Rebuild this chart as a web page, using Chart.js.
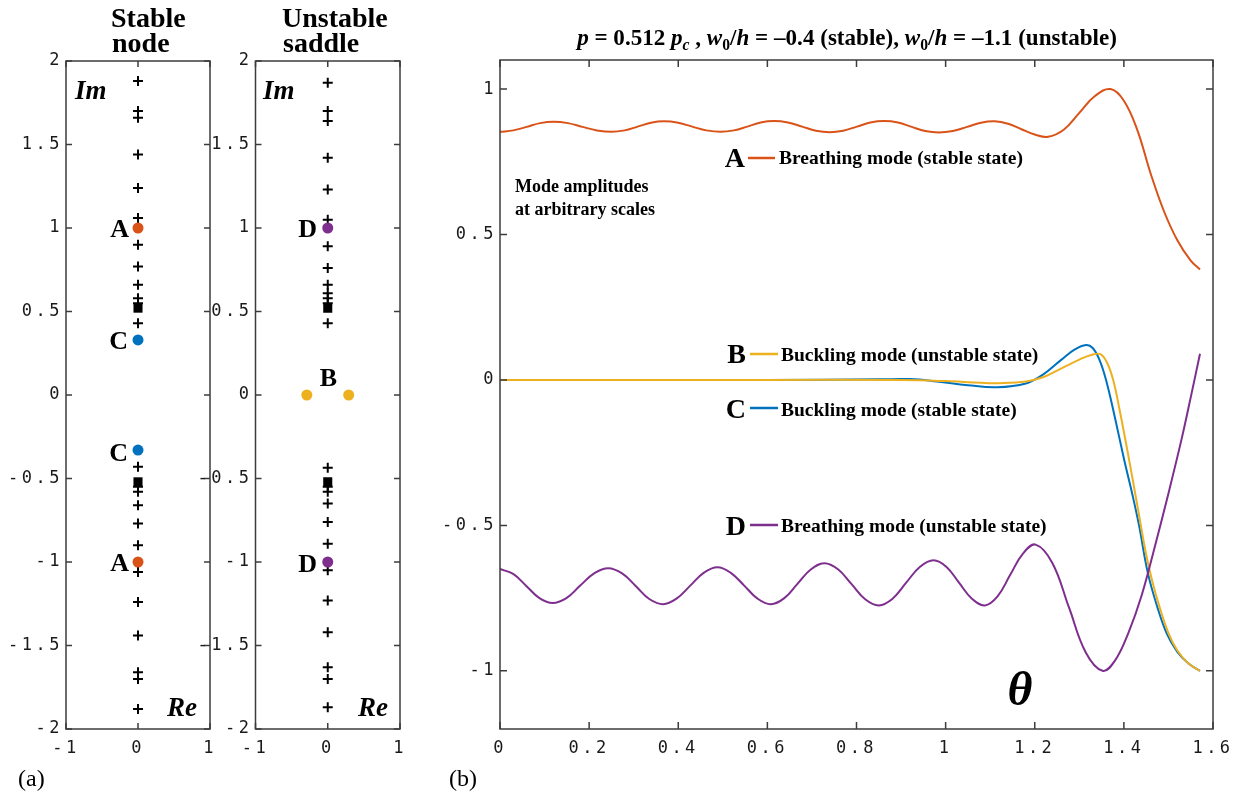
<!DOCTYPE html>
<html>
<head>
<meta charset="utf-8">
<script src="https://cdn.jsdelivr.net/npm/chart.js@4.4.0/dist/chart.umd.min.js"></script>
<style>
  html, body { margin: 0; padding: 0; background: #fff; }
  #wrap { position: relative; width: 1243px; height: 800px; overflow: hidden; }
  canvas { position: absolute; top: 0; }
  #pa { left: 0px; }
  #ps { left: 160px; }
  #pb { left: 420px; }
</style>
</head>
<body>
<div id="wrap">
  <canvas id="pb" width="823" height="800"></canvas>
  <canvas id="pa" width="218" height="800"></canvas>
  <canvas id="ps" width="250" height="800"></canvas>
</div>
<script>
// ---- tick values
const reTicks = [-1, 0, 1];
const imTicks = [-2, -1.5, -1, -0.5, 0, 0.5, 1, 1.5, 2];
const thetaTicks = [0, 0.2, 0.4, 0.6, 0.8, 1, 1.2, 1.4, 1.6];
const ampTicks = [-1, -0.5, 0, 0.5, 1];

// ---- (a) eigenvalues, stable node (all on the imaginary axis unless noted)
const imStable = [1.88, 1.70, 1.66, 1.44, 1.24, 1.06, 0.90, 0.77, 0.66, 0.58, 0.55, 0.43,
                  -0.43, -0.55, -0.58, -0.66, -0.77, -0.90, -1.06, -1.24, -1.44, -1.66, -1.70, -1.88];
const imStableSq = [0.52, -0.52];
const imA = [1, -1];
const imC = [0.33, -0.33];

// ---- (a) eigenvalues, unstable saddle
const imSaddle = [1.87, 1.70, 1.64, 1.42, 1.23, 1.05, 0.89, 0.76, 0.66, 0.61, 0.58, 0.55, 0.43,
                  -0.435, -0.55, -0.58, -0.65, -0.76, -0.89, -1.05, -1.23, -1.42, -1.63, -1.70, -1.87];
const imSaddleSq = [0.52, -0.52];
const imD = [1, -1];
const reB = [-0.29, 0.29];
const imB = [0, 0];

// ---- (b) mode shapes vs theta
const thetaA = [0, 0.03, 0.06, 0.09, 0.12, 0.1525, 0.185, 0.2175, 0.25, 0.2795, 0.309, 0.3385, 0.368,
                0.40, 0.4315, 0.463, 0.495, 0.525, 0.555, 0.585, 0.615, 0.646, 0.678, 0.709, 0.74,
                0.77, 0.801, 0.831, 0.862, 0.893, 0.924, 0.954, 0.985, 1.016, 1.048, 1.079, 1.11,
                1.14, 1.17, 1.20, 1.23, 1.265, 1.30, 1.335, 1.37, 1.40, 1.43, 1.46, 1.49, 1.52, 1.55, 1.5708];
const modeA = [0.853, 0.858, 0.870, 0.883, 0.888, 0.883, 0.870, 0.858, 0.853, 0.858, 0.871, 0.884, 0.889,
               0.884, 0.871, 0.858, 0.853, 0.858, 0.871, 0.885, 0.890, 0.885, 0.871, 0.857, 0.852,
               0.857, 0.871, 0.885, 0.890, 0.885, 0.870, 0.856, 0.851, 0.856, 0.870, 0.884, 0.889,
               0.881, 0.862, 0.844, 0.836, 0.860, 0.918, 0.976, 1.0, 0.96, 0.86, 0.71, 0.58, 0.48, 0.41, 0.38];

const thetaB = [0, 0.3, 0.6, 0.9, 1.0, 1.08, 1.12, 1.18, 1.22, 1.26, 1.30, 1.325, 1.347, 1.362, 1.376,
                1.39, 1.41, 1.43, 1.45, 1.465, 1.48, 1.50, 1.52, 1.545, 1.5708];
const modeB = [0, 0, 0, 0, -0.004, -0.010, -0.011, -0.005, 0.010, 0.040, 0.070, 0.085, 0.089, 0.060, 0.0,
               -0.10, -0.26, -0.43, -0.60, -0.70, -0.78, -0.87, -0.93, -0.975, -1.0];

const thetaC = [0, 0.3, 0.6, 0.85, 0.92, 0.98, 1.05, 1.115, 1.18, 1.22, 1.26, 1.29, 1.315, 1.33, 1.345,
                1.36, 1.38, 1.40, 1.42, 1.434, 1.454, 1.475, 1.496, 1.52, 1.545, 1.5708];
const modeC = [0, 0, 0, 0.002, 0.003, -0.005, -0.018, -0.025, -0.012, 0.020, 0.070, 0.105, 0.120, 0.110, 0.070,
               0.0, -0.13, -0.27, -0.40, -0.50, -0.665, -0.78, -0.871, -0.935, -0.975, -1.0];

const thetaD = [0, 0.0295, 0.059, 0.0885, 0.118, 0.149, 0.180, 0.212, 0.243, 0.274, 0.305, 0.335, 0.366,
                0.396, 0.427, 0.457, 0.488, 0.518, 0.548, 0.578, 0.608, 0.638, 0.668, 0.698, 0.728,
                0.7585, 0.789, 0.8195, 0.850, 0.881, 0.9115, 0.942, 0.973, 1.002, 1.030, 1.059, 1.088,
                1.1165, 1.145, 1.1735, 1.202, 1.2395, 1.277, 1.3145, 1.352, 1.38, 1.41, 1.44, 1.47,
                1.50, 1.53, 1.55, 1.5708];
const modeD = [-0.650, -0.667, -0.708, -0.750, -0.767, -0.750, -0.707, -0.664, -0.647, -0.665, -0.709, -0.753, -0.771,
               -0.752, -0.707, -0.663, -0.644, -0.663, -0.707, -0.752, -0.771, -0.750, -0.700, -0.651, -0.630,
               -0.651, -0.702, -0.754, -0.775, -0.752, -0.697, -0.643, -0.620, -0.643, -0.697, -0.752, -0.775,
               -0.744, -0.670, -0.597, -0.566, -0.629, -0.783, -0.937, -1.0, -0.965, -0.87, -0.74, -0.57,
               -0.39, -0.20, -0.06, 0.09];

const cA = '#D95319', cB = '#EDB120', cC = '#0072BD', cD = '#7E2F8E';
const serif = '"Liberation Serif", "Times New Roman", serif';
const mono = '"DejaVu Sans Mono", monospace';
const axisColor = '#3c3c3c';

function drawRich(ctx, segs, x, y, size, align, fitWidth) {
    const fontOf = (s, sz) => `${s.i ? 'italic ' : ''}${s.b === false ? '' : 'bold '}${sz}px ${serif}`;
    const widthAt = sz => segs.reduce((w, s) => {
        ctx.font = fontOf(s, s.sub ? sz * 0.68 : sz);
        return w + ctx.measureText(s.t).width;
    }, 0);
    if (fitWidth) size = size * fitWidth / widthAt(size);
    const total = widthAt(size);
    let cx = align === 'center' ? x - total / 2 : (align === 'right' ? x - total : x);
    ctx.textAlign = 'left';
    ctx.textBaseline = 'alphabetic';
    segs.forEach(s => {
        const sz = s.sub ? size * 0.68 : size;
        ctx.font = fontOf(s, sz);
        ctx.fillText(s.t, cx, y + (s.sub ? size * 0.22 : 0));
        cx += ctx.measureText(s.t).width;
    });
}

// MATLAB-like box with inward ticks on all four sides
const frameTicks = {
    id: 'frameTicks',
    afterDatasetsDraw(chart, args, opts) {
        const {ctx, chartArea: a, scales: {x, y}} = chart;
        ctx.save();
        ctx.strokeStyle = axisColor;
        ctx.lineWidth = 1.5;
        ctx.beginPath();
        x.ticks.forEach(t => {
            const px = x.getPixelForValue(t.value);
            ctx.moveTo(px, a.bottom); ctx.lineTo(px, a.bottom - opts.len);
            ctx.moveTo(px, a.top); ctx.lineTo(px, a.top + opts.len);
        });
        y.ticks.forEach(t => {
            const py = y.getPixelForValue(t.value);
            ctx.moveTo(a.left, py); ctx.lineTo(a.left + opts.len, py);
            ctx.moveTo(a.right, py); ctx.lineTo(a.right - opts.len, py);
        });
        ctx.stroke();
        ctx.strokeRect(a.left, a.top, a.right - a.left, a.bottom - a.top);
        ctx.restore();
    }
};

// wide-tracked monospace tick labels
const monoSpacing = {
    id: 'monoSpacing',
    beforeDraw(chart) { chart.ctx.letterSpacing = '3.5px'; }
};

// free text and key lines, positions given in page pixels
const textLayer = {
    id: 'textLayer',
    afterDraw(chart, args, opts) {
        const ctx = chart.ctx;
        const ox = opts.ox || 0;
        ctx.save();
        ctx.letterSpacing = '0px';
        (opts.lines || []).forEach(l => {
            ctx.strokeStyle = l.color;
            ctx.lineWidth = 2.5;
            ctx.beginPath();
            ctx.moveTo(l.x1 - ox, l.y);
            ctx.lineTo(l.x2 - ox, l.y);
            ctx.stroke();
        });
        (opts.items || []).forEach(it => {
            ctx.fillStyle = it.color || '#000';
            drawRich(ctx, it.segs || [{t: it.t, i: it.i, b: it.b}], it.x - ox, it.y, it.size, it.align || 'left', it.fit);
        });
        ctx.restore();
    }
};

function axis(min, max, tickVals, fitProp, fitVal, padding) {
    return {
        type: 'linear',
        min: min,
        max: max,
        afterBuildTicks: s => { s.ticks = tickVals.map(v => ({value: v})); },
        afterFit: s => { s[fitProp] = fitVal; },
        grid: {display: false},
        border: {display: false},
        ticks: {
            padding: padding,
            color: '#1a1a1a',
            font: {family: mono, size: 17},
            callback: v => String(v)
        }
    };
}

function imagAxis(im) {
    return im.map(v => ({x: 0, y: v}));
}

const plusStyle = {pointStyle: 'cross', pointRadius: 5, borderColor: '#000', borderWidth: 2, order: 3};
const squareStyle = {pointStyle: 'rect', pointRadius: 6.4, backgroundColor: '#000', borderWidth: 0, order: 2};
function dotStyle(color) {
    return {pointStyle: 'circle', pointRadius: 5.5, backgroundColor: color, borderWidth: 0, order: 1};
}

function drawEigenPanel(el, datasets, yWidth, rightPad, texts, ox) {
    return new Chart(el, {
        type: 'scatter',
        data: {datasets: datasets},
        options: {
            responsive: false,
            animation: false,
            events: [],
            layout: {padding: {top: 61, right: rightPad, left: 0, bottom: 0}},
            plugins: {
                legend: {display: false},
                tooltip: {enabled: false},
                frameTicks: {len: 6},
                textLayer: {ox: ox, items: texts}
            },
            scales: {
                x: axis(-1, 1, reTicks, 'height', 71, 1),
                y: axis(-2, 2, imTicks, 'width', yWidth, -5)
            }
        },
        plugins: [monoSpacing, frameTicks, textLayer]
    });
}

drawEigenPanel(document.getElementById('pa'), [
    Object.assign({data: imagAxis(imStable)}, plusStyle),
    Object.assign({data: imagAxis(imStableSq)}, squareStyle),
    Object.assign({data: imagAxis(imA)}, dotStyle(cA)),
    Object.assign({data: imagAxis(imC)}, dotStyle(cC))
], 66, 8, [
    {t: 'Stable', x: 111, y: 27, size: 28},
    {t: 'node', x: 112, y: 52, size: 28},
    {t: 'Im', i: true, x: 75, y: 99, size: 27},
    {t: 'Re', i: true, x: 167, y: 716, size: 27},
    {t: 'A', x: 129, y: 237, size: 26, align: 'right'},
    {t: 'C', x: 128, y: 349, size: 26, align: 'right'},
    {t: 'C', x: 128, y: 461, size: 26, align: 'right'},
    {t: 'A', x: 129, y: 571, size: 26, align: 'right'},
    {t: '(a)', b: false, x: 18, y: 786, size: 24}
], 0);

drawEigenPanel(document.getElementById('ps'), [
    Object.assign({data: imagAxis(imSaddle)}, plusStyle),
    Object.assign({data: imagAxis(imSaddleSq)}, squareStyle),
    Object.assign({data: imagAxis(imD)}, dotStyle(cD)),
    Object.assign({data: reB.map((r, i) => ({x: r, y: imB[i]}))}, dotStyle(cB))
], 95.5, 10, [
    {t: 'Unstable', x: 282, y: 27, size: 28},
    {t: 'saddle', x: 283, y: 52, size: 28},
    {t: 'Im', i: true, x: 263, y: 99, size: 27},
    {t: 'Re', i: true, x: 358, y: 716, size: 27},
    {t: 'D', x: 317, y: 237, size: 26, align: 'right'},
    {t: 'B', x: 328.5, y: 386, size: 26, align: 'center'},
    {t: 'D', x: 317, y: 572, size: 26, align: 'right'}
], 160);

function curve(theta, amp, color, order) {
    return {
        data: theta.map((t, i) => ({x: t, y: amp[i]})),
        borderColor: color,
        borderWidth: 2,
        pointRadius: 0,
        showLine: true,
        fill: false,
        tension: 0.4,
        order: order
    };
}

const titleSegs = [
    {t: 'p', i: true}, {t: ' = 0.512 '}, {t: 'p', i: true}, {t: 'c', i: true, sub: true}, {t: ' , '},
    {t: 'w', i: true}, {t: '0', sub: true}, {t: '/'}, {t: 'h', i: true}, {t: ' = \u20130.4 (stable), '},
    {t: 'w', i: true}, {t: '0', sub: true}, {t: '/'}, {t: 'h', i: true}, {t: ' = \u20131.1 (unstable)'}
];

new Chart(document.getElementById('pb'), {
    type: 'scatter',
    data: {
        datasets: [
            curve(thetaA, modeA, cA, 3),
            curve(thetaC, modeC, cC, 2),
            curve(thetaB, modeB, cB, 1),
            curve(thetaD, modeD, cD, 0)
        ]
    },
    options: {
        responsive: false,
        animation: false,
        events: [],
        layout: {padding: {top: 60, right: 30, left: 0, bottom: 0}},
        plugins: {
            legend: {display: false},
            tooltip: {enabled: false},
            frameTicks: {len: 7},
            textLayer: {
                ox: 420,
                lines: [
                    {x1: 748, x2: 775, y: 158, color: cA},
                    {x1: 750, x2: 778, y: 354, color: cB},
                    {x1: 750, x2: 778, y: 408, color: cC},
                    {x1: 750, x2: 778, y: 525, color: cD}
                ],
                items: [
                    {segs: titleSegs, x: 847, y: 45, size: 19, align: 'center', fit: 540},
                    {t: 'A', x: 745, y: 167, size: 28, align: 'right'},
                    {t: 'Breathing mode (stable state)', x: 779, y: 164, size: 19.5},
                    {t: 'Mode amplitudes', x: 515, y: 192, size: 18},
                    {t: 'at arbitrary scales', x: 515, y: 215, size: 18},
                    {t: 'B', x: 746, y: 363, size: 28, align: 'right'},
                    {t: 'Buckling mode (unstable state)', x: 781, y: 361, size: 19.5},
                    {t: 'C', x: 746, y: 418, size: 28, align: 'right'},
                    {t: 'Buckling mode (stable state)', x: 781, y: 416, size: 19.5},
                    {t: 'D', x: 746, y: 535, size: 28, align: 'right'},
                    {t: 'Breathing mode (unstable state)', x: 781, y: 532, size: 19.5},
                    {t: '\u03B8', i: true, x: 1020, y: 705, size: 48, align: 'center'},
                    {t: '(b)', b: false, x: 449, y: 786, size: 24}
                ]
            }
        },
        scales: {
            x: axis(0, 1.6, thetaTicks, 'height', 71, 1),
            y: axis(-1.2, 1.1, ampTicks, 'width', 80, -5)
        }
    },
    plugins: [monoSpacing, frameTicks, textLayer]
});
</script>
</body>
</html>
